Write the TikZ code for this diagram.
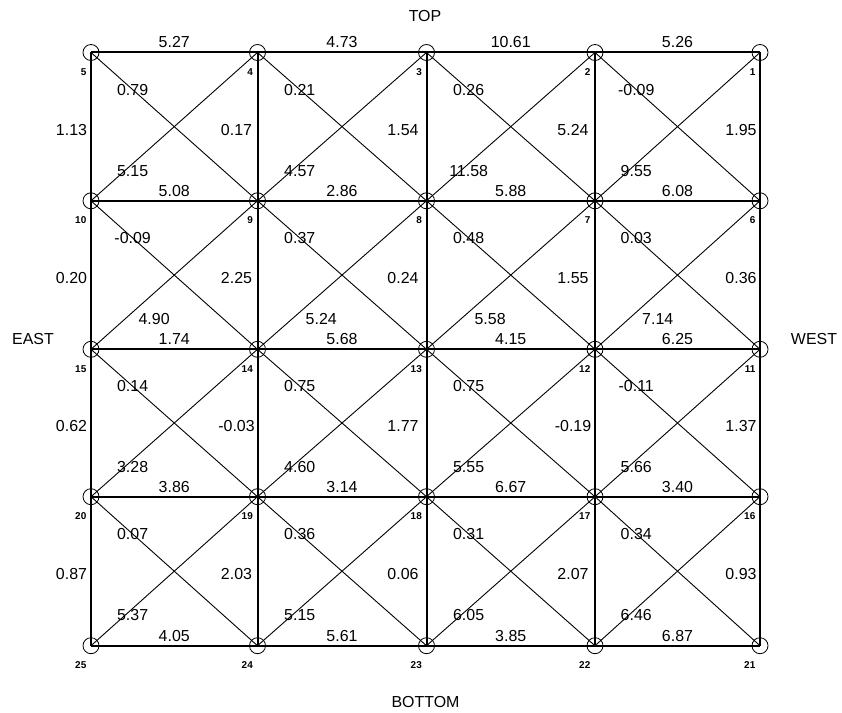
\documentclass[tikz,border=0pt]{standalone}
\usepackage{fontspec}
\setmainfont{Liberation Sans}
\begin{document}
\begin{tikzpicture}[x=1bp,y=-1bp,
  gridnode/.style={circle,draw,line width=0.8bp,minimum size=16bp,inner sep=0},
  frame/.style={line width=2bp},
  diag/.style={line width=0.9bp},
  val/.style={font=\fontsize{16}{16}\selectfont,inner sep=0},
  num/.style={font=\fontsize{10}{10}\selectfont\bfseries,inner sep=0,anchor=east},
  side/.style={font=\fontsize{16}{16}\selectfont,inner sep=0}]
\useasboundingbox (0,0) rectangle (842,713);
% grid nodes
\foreach \yy [count=\r] in {52.5,200.8,349.3,496.7,645.7} {
  \foreach \xx [count=\c] in {91,257.5,426.5,595,760} {
    \pgfmathtruncatemacro{\k}{5*(\r-1)+6-\c}
    \node[gridnode] (n\k) at (\xx,\yy) {};
    \node[num] (lab\k) at (\xx-4.5,\yy+19.5) {\k};
  }
}
% horizontal members
\foreach \a/\b/\t in {5/4/5.27,4/3/4.73,3/2/10.61,2/1/5.26,
  10/9/5.08,9/8/2.86,8/7/5.88,7/6/6.08,
  15/14/1.74,14/13/5.68,13/12/4.15,12/11/6.25,
  20/19/3.86,19/18/3.14,18/17/6.67,17/16/3.40,
  25/24/4.05,24/23/5.61,23/22/3.85,22/21/6.87}
  \draw[frame] (n\a.center) -- node[val,pos=0.5,yshift=10bp] {\t} (n\b.center);
% vertical members
\foreach \a/\b/\t/\s in {5/10/1.13/-19.5,4/9/0.17/-21,3/8/1.54/-23.5,2/7/5.24/-22,1/6/1.95/-19,
  10/15/0.20/-19.5,9/14/2.25/-21,8/13/0.24/-23.5,7/12/1.55/-22,6/11/0.36/-19,
  15/20/0.62/-19.5,14/19/-0.03/-21,13/18/1.77/-23.5,12/17/-0.19/-22,11/16/1.37/-19,
  20/25/0.87/-19.5,19/24/2.03/-21,18/23/0.06/-23.5,17/22/2.07/-22,16/21/0.93/-19}
  \draw[frame] (n\a.center) -- node[val,pos=0.5,xshift=\s bp,yshift=-3bp] {\t} (n\b.center);
% diagonals, top-left to bottom-right
\foreach \a/\b/\t in {5/9/0.79,4/8/0.21,3/7/0.26,2/6/-0.09,
  10/14/-0.09,9/13/0.37,8/12/0.48,7/11/0.03,
  15/19/0.14,14/18/0.75,13/17/0.75,12/16/-0.11,
  20/24/0.07,19/23/0.36,18/22/0.31,17/21/0.34}
  \draw[diag] (n\a.center) -- node[val,pos=0.25] {\t} (n\b.center);
% diagonals, bottom-left to top-right
\foreach \a/\b/\t/\s in {10/4/5.15/0,9/3/4.57/0,8/2/11.58/0,7/1/9.55/0,
  15/9/4.90/21.5,14/8/5.24/21.5,13/7/5.58/21.5,12/6/7.14/21.5,
  20/14/3.28/0,19/13/4.60/0,18/12/5.55/0,17/11/5.66/0,
  25/19/5.37/0,24/18/5.15/0,23/17/6.05/0,22/16/6.46/0}
  \draw[diag] (n\a.center) -- node[val,pos=0.25,xshift=\s bp,yshift=-7bp] {\t} (n\b.center);
% side labels
\node[side] (top) at (425,16) {TOP};
\node[side] (east) at (33,339) {EAST};
\node[side] (west) at (814,339) {WEST};
\node[side] (bottom) at (425.5,702) {BOTTOM};
\end{tikzpicture}
\end{document}
